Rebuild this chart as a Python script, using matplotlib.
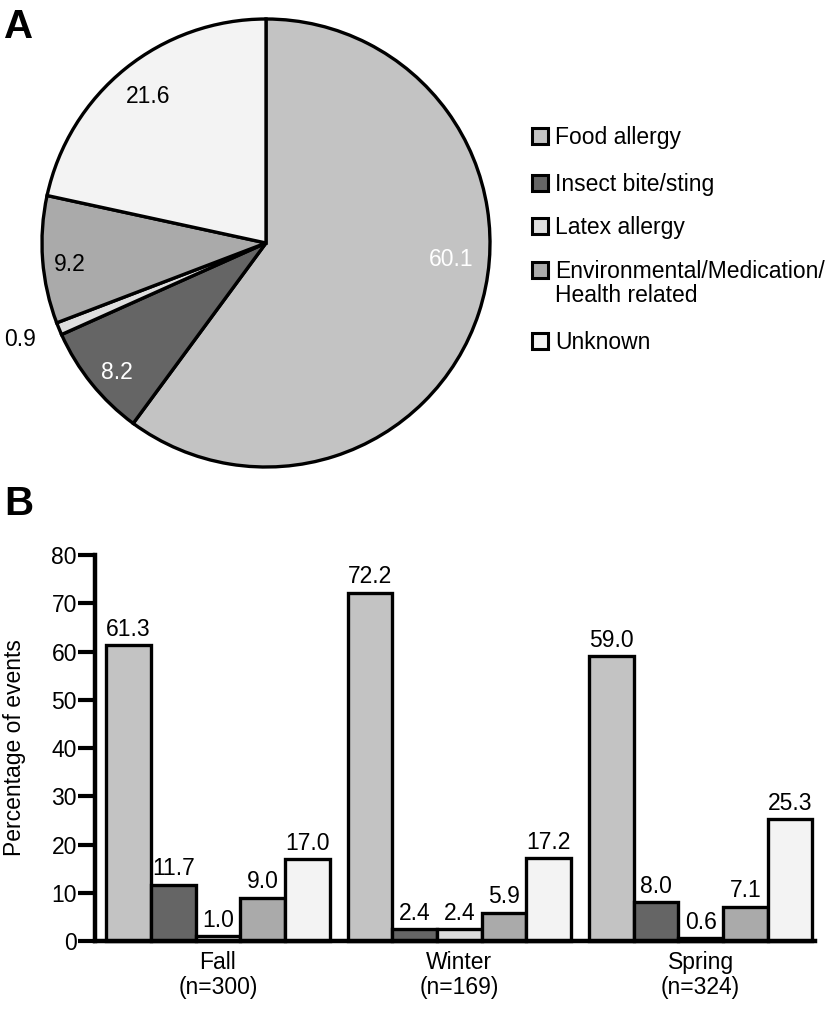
import matplotlib
matplotlib.use("Agg")
from matplotlib import pyplot as plt
from matplotlib.patches import Rectangle
import numpy as np

plt.rcParams['font.family'] = ['Liberation Sans', 'DejaVu Sans']

# data
categories = ["Food allergy", "Insect bite/sting", "Latex allergy",
              "Environmental/Medication/\nHealth related", "Unknown"]
colors = ["#c3c3c3", "#656565", "#dedede", "#aaaaaa", "#f3f3f3"]
overall = [60.1, 8.2, 0.9, 9.2, 21.6]
seasons = ["Fall\n(n=300)", "Winter\n(n=169)", "Spring\n(n=324)"]
fall = [61.3, 11.7, 1.0, 9.0, 17.0]
winter = [72.2, 2.4, 2.4, 5.9, 17.2]
spring = [59.0, 8.0, 0.6, 7.1, 25.3]

FS = 16.5
W, H = 829, 1021
fig = plt.figure(figsize=(W / 100, H / 100), dpi=100)

# ---- Panel A: pie ----
cx, cy, r = 266, 243, 224
ax1 = fig.add_axes([(cx - r) / W, 1 - (cy + r) / H, 2 * r / W, 2 * r / H])
wedges, _ = ax1.pie(overall, colors=colors, startangle=90, counterclock=False,
                    wedgeprops=dict(edgecolor='black', linewidth=2.4))
ax1.set_xlim(-1, 1)
ax1.set_ylim(-1, 1)

# label placement per slice (radius, extra angle) and text colour
lab_r = [0.83, 0.88, 1.18, 0.88, 0.84]
lab_shift = [13, 2, -1, 2, 0]
lab_col = ["white", "white", "black", "black", "black"]
for w, v, rr, sh, c in zip(wedges, overall, lab_r, lab_shift, lab_col):
    ang = np.deg2rad((w.theta1 + w.theta2) / 2 + sh)
    ax1.text(rr * np.cos(ang), rr * np.sin(ang), f"{v:.1f}", color=c,
             fontsize=FS, ha='center', va='center')

# legend drawn by hand so the square sits on the first line
row_y = [136, 183, 226, 270, 341]
for lab, c, y in zip(categories, colors, row_y):
    fig.add_artist(Rectangle((532 / W, 1 - (y + 8) / H), 16 / W, 16 / H,
                             facecolor=c, edgecolor='black', linewidth=2.2,
                             transform=fig.transFigure))
    for j, line in enumerate(lab.split("\n")):
        fig.text(555 / W, 1 - (y + 8 + 24 * j) / H, line, fontsize=FS,
                 ha='left', va='baseline')

fig.text(4 / W, 1 - 8 / H, "A", fontsize=29, fontweight='bold', va='top')
fig.text(4 / W, 1 - 485 / H, "B", fontsize=29, fontweight='bold', va='top')

# ---- Panel B: grouped bars ----
ax2 = fig.add_axes([95 / W, 1 - 941 / H, 720 / W, 386 / H])
period = 5.4
centers = np.arange(len(seasons)) * period
data = np.array([fall, winter, spring])
for i in range(len(categories)):
    xs = centers + (i - 2)
    ax2.bar(xs, data[:, i], width=1.0, color=colors[i],
            edgecolor='black', linewidth=2.4, clip_on=False, zorder=2)
    for x, v in zip(xs, data[:, i]):
        ax2.text(x, v + 0.9, f"{v:.1f}", ha='center', va='bottom', fontsize=FS)

ax2.set_xlim(-2.75, 13.36)
ax2.set_ylim(0, 80)
ax2.set_yticks(np.arange(0, 81, 10))
ax2.set_xticks(centers)
ax2.set_xticklabels(seasons, fontsize=FS, linespacing=1.1)
ax2.tick_params(axis='x', length=0, pad=7)
ax2.tick_params(axis='y', length=12, width=3, labelsize=FS, pad=1)
ax2.spines['top'].set_visible(False)
ax2.spines['right'].set_visible(False)
ax2.spines['left'].set_linewidth(3.2)
ax2.spines['bottom'].set_linewidth(3.2)
ax2.spines['left'].set_zorder(3)
ax2.spines['bottom'].set_zorder(3)
ax2.set_ylabel("Percentage of events", fontsize=FS, labelpad=18)

fig.savefig("out.png", dpi=100)
